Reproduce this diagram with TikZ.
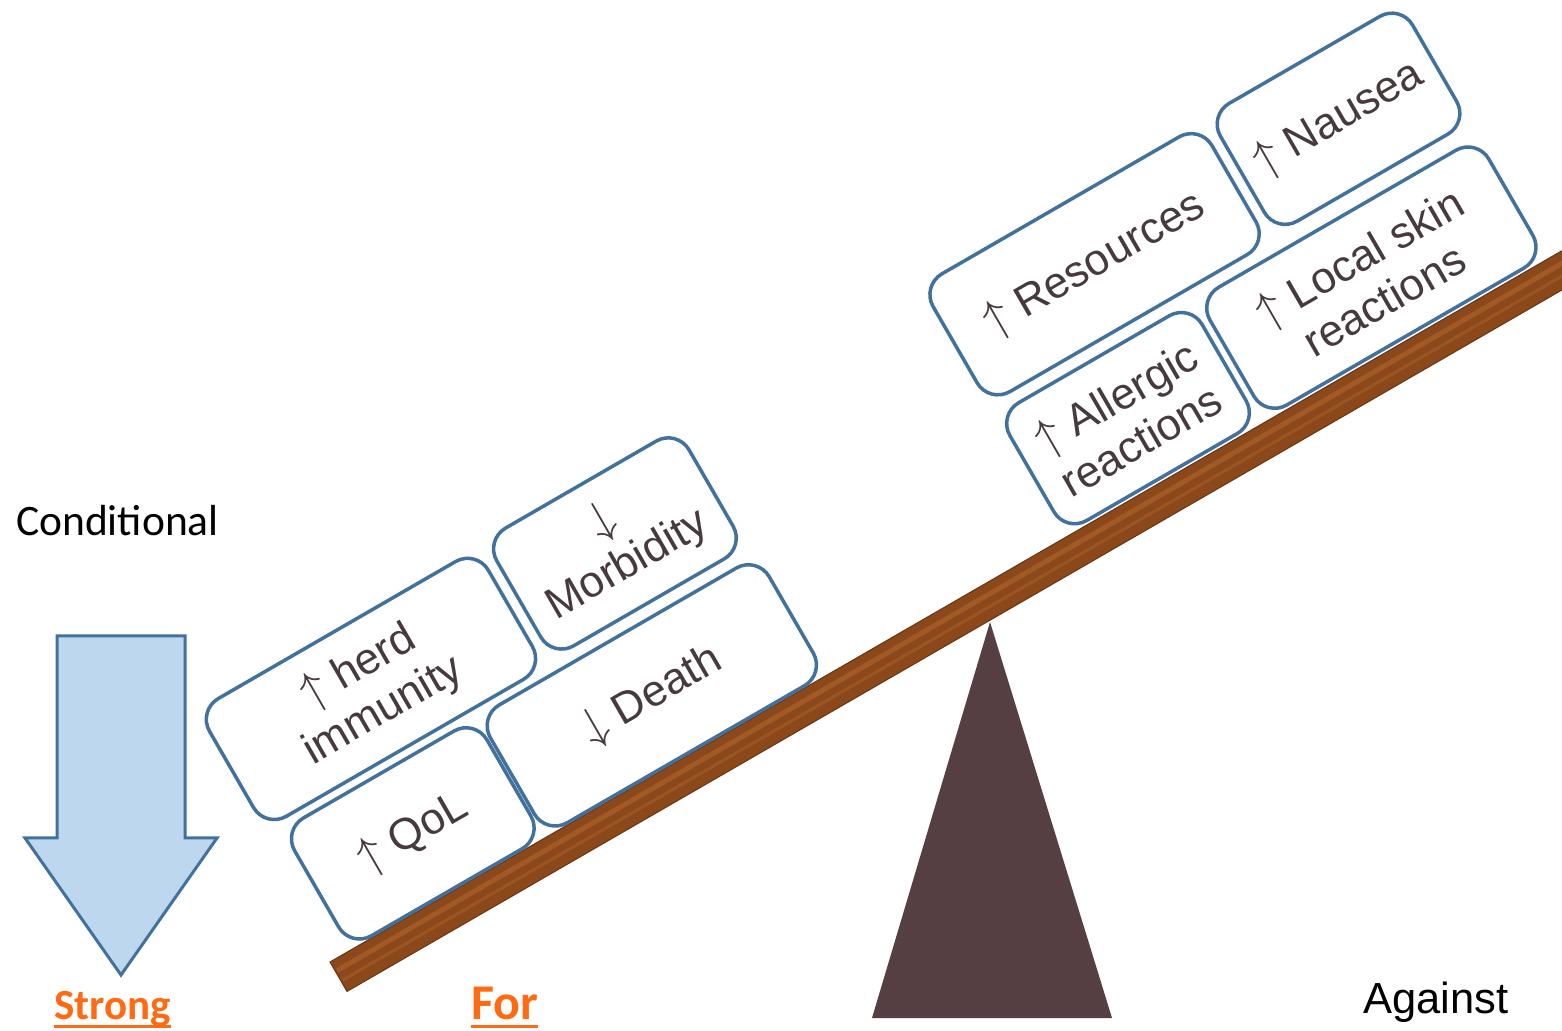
\documentclass[tikz,border=0pt]{standalone}
\usepackage{graphicx}
\usepackage{fontspec}
\setmainfont{Liberation Sans}
\newfontfamily\calfont{Carlito}
\usetikzlibrary{positioning}
\definecolor{boxBlue}{HTML}{41719C}
\definecolor{arrowFill}{HTML}{BDD7EE}
\definecolor{textBrown}{HTML}{463A3C}
\definecolor{woodBrown}{HTML}{8B481B}
\definecolor{woodLight}{HTML}{A15A26}
\definecolor{woodDark}{HTML}{6A3512}
\definecolor{pivotGray}{HTML}{553F43}
\definecolor{labelOrange}{HTML}{FF6A13}
\newcommand{\up}{\scalebox{4.8}{\normalsize\(\uparrow\)}}
\newcommand{\down}{\scalebox{4.8}{\normalsize\(\downarrow\)}}

\begin{document}
\begin{tikzpicture}[
    x=1pt, y=1pt,
    block/.style={rectangle, draw=boxBlue, line width=3.5pt, fill=white, rounded corners=24pt, minimum height=136pt, align=center, text=textBrown, font=\fontsize{44}{50}\selectfont, inner sep=0pt, transform shape},
    narrow/.style={block, minimum width=222pt},
    wide/.style={block, minimum width=322pt},
    label/.style={anchor=base west, inner sep=0pt, font=\calfont\fontsize{43.5}{50}\selectfont},
    choice/.style={label, text=labelOrange, font=\calfont\bfseries\fontsize{43}{50}\selectfont},
]
    \useasboundingbox (0,0) rectangle (1562,1030);
    \clip (0,0) rectangle (1562,1030);

    % Pivot and arrow
    \fill[pivotGray] (872,12) -- (990,408) -- (1112,12) -- cycle;
    \draw[boxBlue, fill=arrowFill, line width=3pt, line join=miter] (57,394) -- (185,394) -- (185,192) -- (217,192) -- (121,55) -- (25,192) -- (57,192) -- cycle;

    % Beam and blocks
    \begin{scope}[shift={(330,68)}, rotate=30]
        \draw[woodDark, fill=woodBrown, line width=1pt] (0,0) rectangle (1500,-34);
        \draw[woodLight, line width=5pt] (2,-11) -- (1500,-11);
        \draw[woodLight!70!woodBrown, line width=3pt] (2,-22) -- (1500,-22);
        \node[narrow] (qol) at (136,70) {\up\ QoL};
        \node[wide] (death) at (412,70) {\down\ Death};
        \node[wide] (herd) at (172,216) {\up\ herd\\immunity};
        \node[narrow] (morb) at (456,220) {\down\\Morbidity};
        \node[narrow] (allergic) at (963,72) {\up\ Allergic\\reactions};
        \node[wide] (skin) at (1244,72) {\up\ Local skin\\reactions};
        \node[wide] (resources) at (1011,222) {\up\ Resources};
        \node[narrow] (nausea) at (1295,226) {\up\ Nausea};
    \end{scope}

    % Labels
    \node[label] (cond) at (16,494) {Conditional};
    \node[choice] (strong) at (54,11) {Strong\ };
    \node[choice, font=\calfont\bfseries\fontsize{50}{56}\selectfont] (for) at (471,11) {For};
    \node[label, font=\fontsize{43.5}{50}\selectfont] (against) at (1363,17) {Against};
    \draw[labelOrange, line width=3pt] ([yshift=-7pt]strong.base west) -- ([yshift=-7pt]strong.base east);
    \draw[labelOrange, line width=3pt] ([yshift=-7pt]for.base west) -- ([yshift=-7pt]for.base east);
\end{tikzpicture}
\end{document}
